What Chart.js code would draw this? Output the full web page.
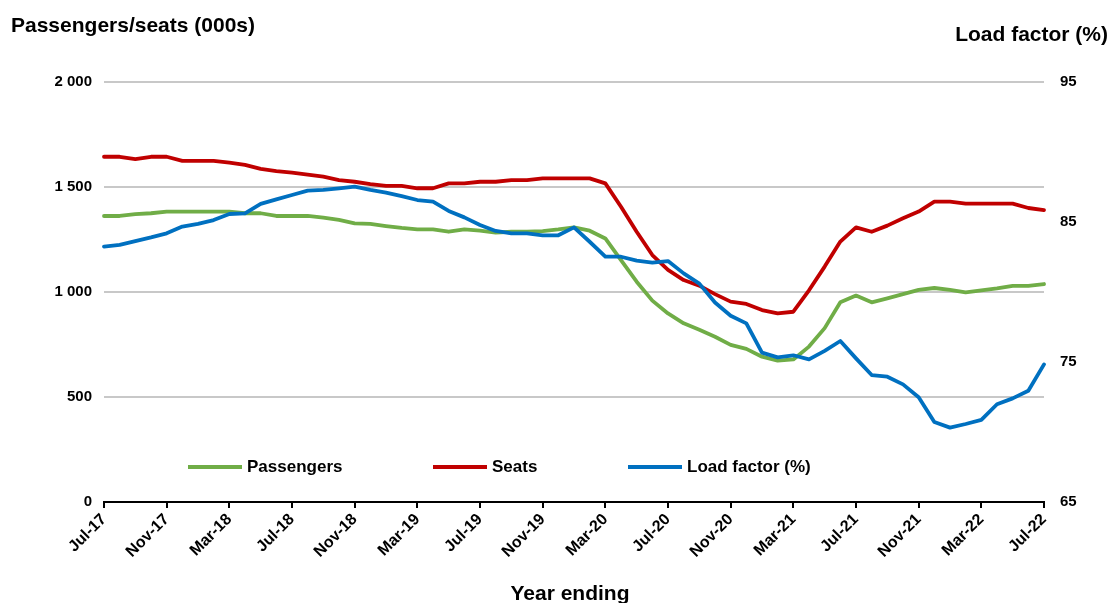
<!DOCTYPE html>
<html>
<head>
<meta charset="utf-8">
<script src="https://cdn.jsdelivr.net/npm/chart.js@4/dist/chart.umd.min.js"></script>
<style>
  html, body { margin: 0; padding: 0; background: #fff; }
  #wrap { width: 1115px; height: 603px; position: relative; }
</style>
</head>
<body>
<div id="wrap"><canvas id="lineChart"></canvas></div>
<script>
// Month labels, Jul-17 .. Jul-22 (year ending)
const monthNames = ['Jan', 'Feb', 'Mar', 'Apr', 'May', 'Jun', 'Jul', 'Aug', 'Sep', 'Oct', 'Nov', 'Dec'];
const labels = [];
for (let k = 0; k <= 60; k++) {
    const m = (6 + k) % 12;
    const y = 17 + Math.floor((6 + k) / 12);
    labels.push(monthNames[m] + '-' + y);
}

// Passengers (000s)
const passengers = [
    1362, 1362, 1371, 1375, 1383, 1383, 1383, 1383, 1383, 1375,
    1375, 1362, 1362, 1362, 1354, 1343, 1327, 1324, 1314, 1305,
    1298, 1298, 1287, 1298, 1292, 1283, 1287, 1287, 1290, 1298,
    1308, 1292, 1255, 1152, 1049, 959, 898, 851, 820, 787,
    748, 729, 692, 673, 679, 740, 828, 951, 983, 951,
    970, 990, 1010, 1019, 1010, 998, 1008, 1017, 1029, 1029,
    1038
];

// Seats (000s)
const seats = [
    1644, 1644, 1633, 1644, 1644, 1624, 1624, 1624, 1616, 1605,
    1586, 1576, 1568, 1559, 1549, 1533, 1525, 1514, 1505, 1505,
    1494, 1494, 1517, 1517, 1525, 1525, 1533, 1533, 1541, 1541,
    1541, 1541, 1517, 1406, 1287, 1176, 1105, 1057, 1030, 990,
    954, 943, 914, 898, 906, 1008, 1121, 1240, 1308, 1287,
    1316, 1351, 1383, 1430, 1430, 1421, 1421, 1421, 1421, 1400,
    1390
];

// Load factor (%)
const loadFactor = [
    83.24, 83.36, 83.64, 83.9, 84.19, 84.67, 84.86, 85.14, 85.57, 85.62,
    86.29, 86.62, 86.93, 87.24, 87.29, 87.4, 87.52, 87.29, 87.1, 86.85,
    86.57, 86.45, 85.79, 85.33, 84.79, 84.36, 84.19, 84.19, 84.05, 84.05,
    84.62, 83.59, 82.52, 82.52, 82.24, 82.1, 82.21, 81.33, 80.6, 79.25,
    78.3, 77.76, 75.67, 75.33, 75.48, 75.19, 75.8, 76.5, 75.26, 74.07,
    73.95, 73.4, 72.48, 70.71, 70.31, 70.57, 70.86, 71.98, 72.4, 72.95,
    74.83
];

const COLORS = {
    passengers: '#70ad47',
    seats: '#c00000',
    load: '#0070c0',
    grid: '#c8c8c8'
};

const FONT = '"Liberation Sans", Arial, Helvetica, sans-serif';

// Titles, axis caption and the in-plot legend
const decorations = {
    id: 'decorations',
    afterDraw(chart) {
        const { ctx } = chart;
        ctx.save();
        ctx.fillStyle = '#000';
        ctx.textBaseline = 'middle';

        ctx.font = 'bold 21px ' + FONT;
        ctx.textAlign = 'left';
        ctx.fillText('Passengers/seats (000s)', 11, 26);
        ctx.textAlign = 'right';
        ctx.fillText('Load factor (%)', 1108, 35);

        ctx.font = 'bold 21px ' + FONT;
        ctx.textAlign = 'center';
        ctx.fillText('Year ending', 570, 594);

        const items = [
            { text: 'Passengers', color: COLORS.passengers, x: 188 },
            { text: 'Seats', color: COLORS.seats, x: 433 },
            { text: 'Load factor (%)', color: COLORS.load, x: 628 }
        ];
        ctx.font = 'bold 17px ' + FONT;
        ctx.textAlign = 'left';
        items.forEach((it) => {
            ctx.beginPath();
            ctx.strokeStyle = it.color;
            ctx.lineWidth = 4;
            ctx.moveTo(it.x, 467);
            ctx.lineTo(it.x + 54, 467);
            ctx.stroke();
            ctx.fillStyle = '#000';
            ctx.fillText(it.text, it.x + 59, 467);
        });
        ctx.restore();
    }
};

const ctx = document.getElementById('lineChart').getContext('2d');
window.lineChartInstance = new Chart(ctx, {
    type: 'line',
    data: {
        labels: labels,
        datasets: [
            {
                label: 'Passengers',
                data: passengers,
                borderColor: COLORS.passengers,
                yAxisID: 'y',
                order: 3
            },
            {
                label: 'Seats',
                data: seats,
                borderColor: COLORS.seats,
                yAxisID: 'y',
                order: 2
            },
            {
                label: 'Load factor (%)',
                data: loadFactor,
                borderColor: COLORS.load,
                yAxisID: 'y1',
                order: 1
            }
        ]
    },
    options: {
        responsive: true,
        maintainAspectRatio: false,
        animation: false,
        elements: {
            line: { borderWidth: 3.8, tension: 0, fill: false, borderCapStyle: 'round', borderJoinStyle: 'round' },
            point: { radius: 0, hoverRadius: 0 }
        },
        layout: {
            padding: { top: 82, left: 0, right: 0, bottom: 0 }
        },
        scales: {
            x: {
                type: 'category',
                offset: false,
                afterFit: (scale) => { scale.height = 101; },
                grid: {
                    drawOnChartArea: false,
                    drawTicks: true,
                    tickLength: 6,
                    lineWidth: 2,
                    color: (c) => (c.index % 4 === 0 ? '#000' : 'rgba(0,0,0,0)')
                },
                border: { display: true, color: '#000', width: 2 },
                ticks: {
                    autoSkip: false,
                    maxRotation: 45,
                    minRotation: 45,
                    padding: 2,
                    color: '#000',
                    font: { size: 16, weight: 'bold', family: FONT },
                    callback: (value, index) => (index % 4 === 0 ? labels[index] : '')
                }
            },
            y: {
                position: 'left',
                min: 0,
                max: 2000,
                afterFit: (scale) => { scale.width = 104; },
                grid: {
                    drawTicks: false,
                    lineWidth: 2,
                    color: (c) => (c.tick && c.tick.value === 0 ? 'rgba(0,0,0,0)' : COLORS.grid)
                },
                border: { display: false },
                ticks: {
                    stepSize: 500,
                    padding: 12,
                    color: '#000',
                    font: { size: 15, weight: 'bold', family: FONT },
                    callback: (v) => String(v).replace(/\B(?=(\d{3})+(?!\d))/g, ' ')
                }
            },
            y1: {
                position: 'right',
                min: 65,
                max: 95,
                afterFit: (scale) => { scale.width = 71; },
                grid: { drawOnChartArea: false, drawTicks: false },
                border: { display: false },
                ticks: {
                    stepSize: 10,
                    padding: 16,
                    color: '#000',
                    font: { size: 15, weight: 'bold', family: FONT }
                }
            }
        },
        plugins: {
            legend: { display: false },
            tooltip: { enabled: false }
        }
    },
    plugins: [decorations]
});
</script>
</body>
</html>
